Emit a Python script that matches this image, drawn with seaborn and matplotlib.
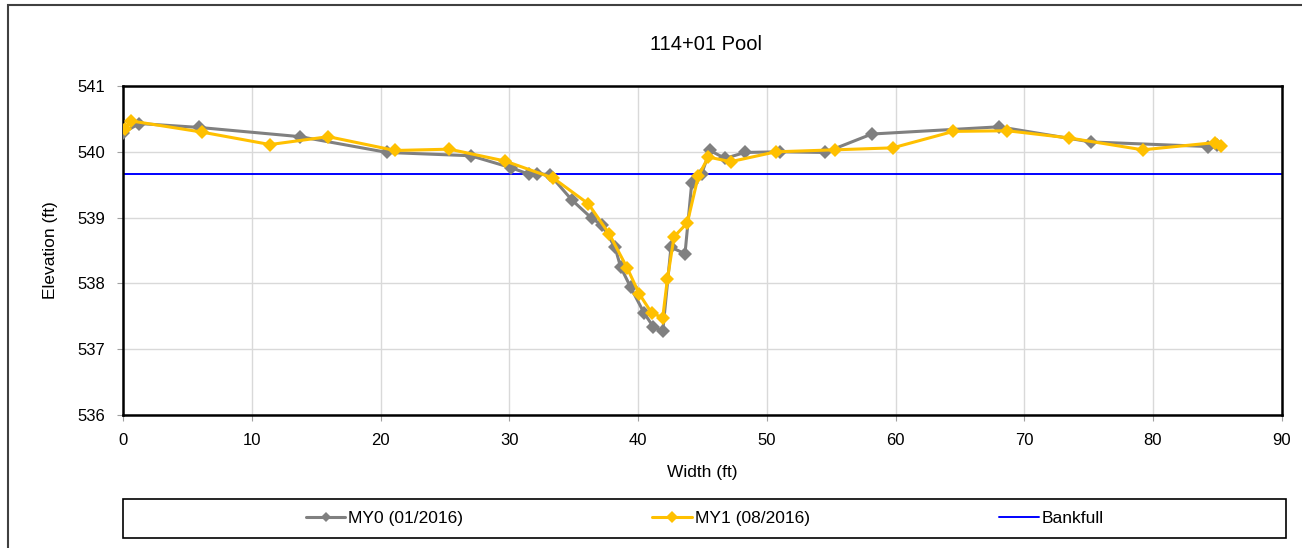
import matplotlib
matplotlib.use("Agg")
import matplotlib.pyplot as plt
import matplotlib.patches as patches
import pandas as pd
import seaborn as sns

# survey points
my0_width = [0.0, 1.24, 5.90, 13.73, 20.51, 26.99, 30.10, 31.50, 32.17, 33.15,
             34.84, 36.39, 37.17, 38.20, 38.64, 39.42, 40.46, 41.18, 41.91, 42.55,
             43.64, 44.16, 44.94, 45.58, 46.75, 48.30, 51.02, 54.52, 58.15, 68.06,
             75.16, 84.30, 85.00]
my0_elev = [540.29, 540.43, 540.37, 540.23, 539.99, 539.94, 539.76, 539.66, 539.67, 539.65,
            539.27, 538.99, 538.89, 538.55, 538.25, 537.94, 537.55, 537.34, 537.27, 538.55,
            538.45, 539.52, 539.67, 540.02, 539.90, 539.99, 540.00, 539.99, 540.27, 540.38,
            540.15, 540.08, 540.10]

my1_width = [0.13, 0.57, 6.09, 11.40, 15.93, 21.11, 25.33, 29.66, 33.41, 36.13,
             37.76, 39.16, 40.09, 41.05, 41.91, 42.27, 42.79, 43.82, 44.67, 45.45,
             47.19, 50.71, 55.29, 59.78, 64.49, 68.68, 73.50, 79.20, 84.82, 85.26]
my1_elev = [540.34, 540.47, 540.30, 540.11, 540.23, 540.02, 540.04, 539.86, 539.60, 539.21,
            538.75, 538.23, 537.84, 537.55, 537.48, 538.06, 538.71, 538.92, 539.63, 539.92,
            539.85, 540.00, 540.03, 540.06, 540.31, 540.32, 540.21, 540.03, 540.14, 540.09]

bankfull_width = [0, 90]
bankfull_elev = [539.67, 539.67]

x_ticks = list(range(0, 91, 10))
y_ticks = [536, 537, 538, 539, 540, 541]

sns.set_style("white")
plt.rcParams["font.family"] = ["Liberation Sans", "DejaVu Sans"]
plt.rcParams["text.color"] = "black"
plt.rcParams["axes.labelcolor"] = "black"

W, H = 1302, 548
fig = plt.figure(figsize=(W / 100, H / 100), dpi=100)
ax = fig.add_axes([123.3 / W, 1 - 415 / H, (1281.7 - 123.3) / W, 329 / H])

df0 = pd.DataFrame({"Width": my0_width, "Elevation": my0_elev})
df1 = pd.DataFrame({"Width": my1_width, "Elevation": my1_elev})
dfb = pd.DataFrame({"Width": bankfull_width, "Elevation": bankfull_elev})

sns.lineplot(data=df0, x="Width", y="Elevation", ax=ax, sort=False, estimator=None,
             color="#808080", linewidth=2.2, marker="D", markersize=7,
             markeredgewidth=0, label="MY0 (01/2016)", zorder=3)
sns.lineplot(data=df1, x="Width", y="Elevation", ax=ax, sort=False, estimator=None,
             color="#FFC000", linewidth=2.2, marker="D", markersize=7.5,
             markeredgewidth=0, label="MY1 (08/2016)", zorder=4)
sns.lineplot(data=dfb, x="Width", y="Elevation", ax=ax, sort=False, estimator=None,
             color="#0000FF", linewidth=1.4, label="Bankfull", zorder=2)

ax.set_xlim(0, 90)
ax.set_ylim(536, 541)
ax.set_xticks(x_ticks)
ax.set_yticks(y_ticks)
ax.grid(True, color="#D9D9D9", linewidth=1.0)
ax.set_axisbelow(True)
for sp in ax.spines.values():
    sp.set_visible(True)
    sp.set_color("black")
    sp.set_linewidth(1.8)
ax.tick_params(axis="both", direction="out", length=4, width=0.8, color="#A0A0A0",
               labelcolor="black", labelsize=12, pad=9, bottom=True, left=True)

ax.set_xlabel("Width (ft)", fontsize=12.5, labelpad=12)
ax.set_ylabel("Elevation (ft)", fontsize=12.5, labelpad=14)
fig.text(706 / W, 1 - 44 / H, "114+01 Pool", fontsize=14.5, ha="center", va="center")

ax.get_legend().remove()
handles, labels = ax.get_legend_handles_labels()
leg_box = (123.3 / W, 1 - 538 / H, (1286 - 123.3) / W, 39 / H)
fig.legend(handles, labels, loc="center", ncol=3, bbox_to_anchor=leg_box,
           fontsize=12.5, frameon=False, labelcolor="black",
           handlelength=2.3, handletextpad=0.15, columnspacing=10.9,
           markerscale=0.8, borderaxespad=0, borderpad=0.6)
# legend frame spanning the full plot width
fig.patches.append(patches.Rectangle(leg_box[:2], leg_box[2], leg_box[3], transform=fig.transFigure,
                                     fill=False, edgecolor="black", linewidth=1.2))

# outer chart frame
fig.patches.append(patches.Rectangle((8 / W, -0.2), 1.5, 1.2 - 5 / H, transform=fig.transFigure,
                                     fill=False, edgecolor="#404040", linewidth=1.5))

fig.savefig("out.png", dpi=100)
